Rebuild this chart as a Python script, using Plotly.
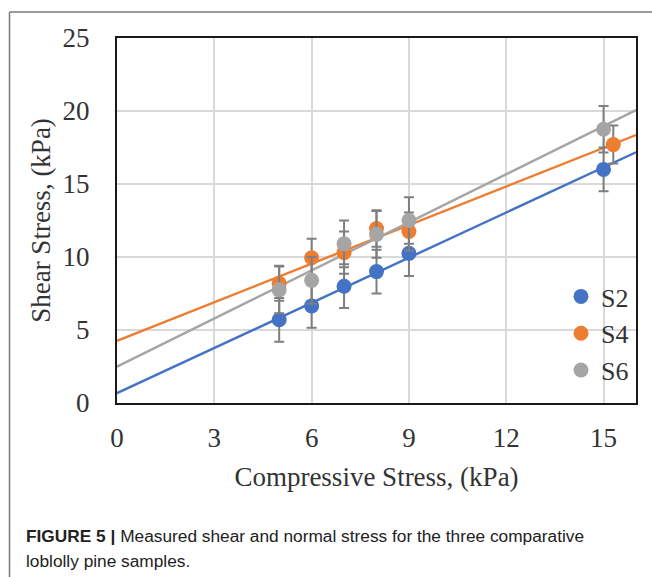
import numpy as np
import plotly.graph_objects as go

# ---- data ----
s2_x = [5, 6, 7, 8, 9, 15]
s2_y = [5.7, 6.65, 8.0, 9.0, 10.25, 16.0]
s2_err = [1.5, 1.5, 1.5, 1.5, 1.55, 1.5]

s4_x = [5, 6, 7, 8, 9, 15.3]
s4_y = [8.2, 9.95, 10.3, 11.95, 11.75, 17.7]
s4_err = [1.2, 1.3, 1.45, 1.25, 1.3, 1.3]

s6_x = [5, 6, 7, 8, 9, 15]
s6_y = [7.75, 8.4, 10.9, 11.55, 12.5, 18.75]
s6_err = [1.6, 1.6, 1.6, 1.6, 1.6, 1.6]

series_names = ["S2", "S4", "S6"]
colors = ["#4472C4", "#ED7D31", "#A5A5A5"]

x_range = [0, 16]
y_range = [0, 25]
x_ticks = [0, 3, 6, 9, 12, 15]
y_ticks = [0, 5, 10, 15, 20, 25]

W, H = 652, 577
L, R, T, B = 117, 16, 38, 174
pw, ph = W - L - R, H - T - B


def px(xp):
    return (xp - L) / pw


def py(yp):
    return (H - B - yp) / ph


fig = go.Figure()
data = [(s2_x, s2_y, s2_err), (s4_x, s4_y, s4_err), (s6_x, s6_y, s6_err)]

# trendlines
for (xs, ys, _), c in zip(data, colors):
    m, b = np.polyfit(xs, ys, 1)
    xl = np.array(x_range, dtype=float)
    fig.add_trace(go.Scatter(x=xl, y=m * xl + b, mode="lines",
                             line=dict(color=c, width=2.4),
                             showlegend=False, hoverinfo="skip"))

# points with error bars
for (xs, ys, es), c, n in zip(data, colors, series_names):
    fig.add_trace(go.Scatter(
        x=xs, y=ys, mode="markers", name=n,
        marker=dict(color=c, size=15),
        error_y=dict(type="data", array=es, visible=True,
                     color="#7F7F7F", thickness=2, width=5),
    ))

font_serif = "Liberation Serif, Times New Roman, serif"

fig.update_layout(
    width=W, height=H,
    margin=dict(l=L, r=R, t=T, b=B, autoexpand=False),
    paper_bgcolor="white", plot_bgcolor="white",
    font=dict(family=font_serif, size=27, color="#333333"),
    showlegend=True,
    legend=dict(x=px(561), y=py(273), xanchor="left", yanchor="top",
                bgcolor="rgba(0,0,0,0)", font=dict(size=26, color="#333333"),
                tracegroupgap=0, itemsizing="trace"),
    xaxis=dict(range=x_range, tickvals=x_ticks, showgrid=True,
               gridcolor="#D9D9D9", gridwidth=2, zeroline=False,
               showline=True, linecolor="#1A1A1A", linewidth=2, mirror=True,
               ticks="", ticklabelstandoff=10,
               title=dict(text="Compressive Stress, (kPa)", standoff=15,
                          font=dict(size=27))),
    yaxis=dict(range=y_range, tickvals=y_ticks, showgrid=True,
               gridcolor="#D9D9D9", gridwidth=2, zeroline=False,
               showline=True, linecolor="#1A1A1A", linewidth=2, mirror=True,
               ticks="", ticklabelstandoff=20,
               title=dict(text="Shear Stress, (kPa)", standoff=4,
                          font=dict(size=27))),
    shapes=[
        dict(type="line", xref="paper", yref="paper",
             x0=px(9.5), x1=px(660), y0=py(12), y1=py(12),
             line=dict(color="#7A7A7A", width=1.5)),
        dict(type="line", xref="paper", yref="paper",
             x0=px(9.5), x1=px(9.5), y0=py(12), y1=py(590),
             line=dict(color="#7A7A7A", width=1.5)),
    ],
    annotations=[
        dict(xref="paper", yref="paper", x=px(24), y=py(536),
             xanchor="left", yanchor="middle", showarrow=False, align="left",
             text="<b>FIGURE 5 |</b> Measured shear and normal stress for the three comparative",
             font=dict(family="Liberation Sans, Arial, sans-serif", size=17.3, color="#222222")),
        dict(xref="paper", yref="paper", x=px(24), y=py(561),
             xanchor="left", yanchor="middle", showarrow=False, align="left",
             text="loblolly pine samples.",
             font=dict(family="Liberation Sans, Arial, sans-serif", size=17.3, color="#222222")),
    ],
)

fig.write_html("out.html")
